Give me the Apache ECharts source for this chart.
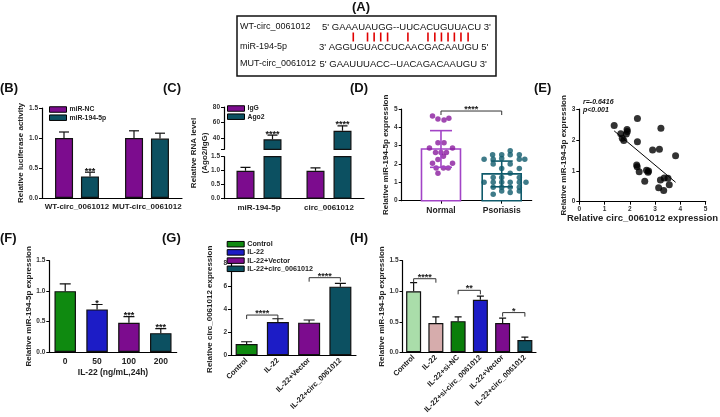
<!DOCTYPE html>
<html><head><meta charset="utf-8">
<script src="https://cdn.jsdelivr.net/npm/echarts@6/dist/echarts.min.js"></script>
<style>html,body{margin:0;padding:0;background:#fff}#c{width:720px;height:417px}</style>
</head><body><div id="c"></div>
<script>
// ================= DATA =================
// Panel A
const seqLabels = ['WT-circ_0061012', 'miR-194-5p', 'MUT-circ_0061012'];
const seqStrings = ["5' GAAAUAUGG--UUCACUGUUACU 3'", "3' AGGUGUACCUCAACGACAAUGU 5'", "5' GAAUUUACC--UACAGACAAUGU 3'"];
const pairedBases = [4, 6, 7, 8, 9, 12, 15, 16, 17, 18, 19, 20, 21]; // 1-based positions in miR sequence

// Panel B
const bCategories = ['WT-circ_0061012', 'MUT-circ_0061012'];
const bNames = ['miR-NC', 'miR-194-5p'];
const bNC = [1.00, 1.00];
const bNCErr = [0.10, 0.12];
const bMiR = [0.36, 0.99];
const bMiRErr = [0.07, 0.09];
const bMiRStars = ['***', ''];

// Panel C
const cCategories = ['miR-194-5p', 'circ_0061012'];
const cNames = ['IgG', 'Ago2'];
const cIgG = [1.00, 1.00];
const cIgGErr = [0.12, 0.10];
const cAgo2 = [38, 49];
const cAgo2Err = [5.5, 6.5];
const cAgo2Stars = ['****', '****'];
const cHighTicks = [40, 60, 80];

// Panel D
const dCategories = ['Normal', 'Psoriasis'];
const dMean = [2.82, 1.46];
const dSD = [1.00, 0.70];
const dNormal = [4.62, 4.46, 4.40, 4.49, 3.16, 3.16, 2.88, 2.88, 2.63, 2.63, 2.63, 2.43, 2.25, 2.04, 2.04, 1.78, 1.78, 1.78, 1.49];
const dNormalJitter = [-0.14, -0.05, 0.05, 0.13, -0.05, 0.05, -0.19, 0.19, -0.09, 0, 0.09, 0.04, -0.05, -0.14, 0.19, -0.08, 0.04, 0.12, -0.05];
const dPsoriasis = [2.73, 2.51, 2.51, 2.51, 2.51, 2.26, 2.26, 2.30, 2.26, 2.26, 2.00, 2.00, 1.75, 1.75, 1.49, 1.27, 1.27, 1.27, 1.00, 1.00, 1.00, 1.00, 1.00, 1.00, 0.73, 0.73, 0.73, 0.73, 0.53, 0.53, 0.35, 0.45];
const dPsoriasisJitter = [0.14, -0.15, 0, 0.14, 0.29, -0.29, -0.14, 0, 0.29, 0.38, -0.14, 0.14, 0, 0.29, 0.14, -0.14, 0, 0.29, -0.29, -0.14, 0, 0.14, 0.29, 0.40, -0.14, 0, 0.14, 0.29, 0, 0.29, -0.14, 0.14];
const dBrackets = [[1, 2, 4.89]];
const dBracketLabels = ['****'];

// Panel E
const eX = [1.38, 2.30, 1.64, 1.89, 1.90, 1.86, 1.70, 1.76, 2.30, 3.23, 2.90, 3.17, 3.81, 2.27, 2.29, 2.37, 2.66, 2.72, 2.74, 2.59, 3.21, 3.36, 3.51, 3.14, 3.34, 3.56];
const eY = [2.47, 2.69, 2.20, 2.34, 2.27, 2.19, 2.05, 1.98, 1.94, 2.38, 1.67, 1.70, 1.49, 1.19, 1.13, 0.97, 1.02, 0.95, 0.99, 0.66, 0.70, 0.77, 0.76, 0.45, 0.36, 0.55];
const eStats = ['r=-0.6416', 'p<0.001'];

// Panel F
const fCategories = ['0', '50', '100', '200'];
const fVals = [1.00, 0.70, 0.48, 0.31];
const fErr = [0.12, 0.08, 0.10, 0.075];
const fStars = ['', '*', '***', '***'];

// Panel G
const gCategories = ['Control', 'IL-22', 'IL-22+Vector', 'IL-22+circ_0061012'];
const gVals = [0.98, 2.90, 2.84, 5.97];
const gErr = [0.20, 0.28, 0.23, 0.29];
const gBrackets = [[0, 1, 3.5], [2, 3, 6.75]];
const gBracketLabels = ['****', '****'];

// Panel H
const hCategories = ['Control', 'IL-22', 'IL-22+si-NC', 'IL-22+si-circ_0061012', 'IL-22+Vector', 'IL-22+circ_0061012'];
const hVals = [1.00, 0.48, 0.51, 0.86, 0.48, 0.20];
const hErr = [0.14, 0.10, 0.07, 0.06, 0.08, 0.05];
const hBrackets = [[0, 1, 1.205], [2, 3, 1.015], [4, 5, 0.65]];
const hBracketLabels = ['****', '**', '*'];

// ================= STYLE =================
const FONT = '"Liberation Sans", Arial, sans-serif';
const PURPLE = '#7C0C8E', TEAL = '#0C5061', GREEN = '#0F8A10', BLUE = '#1C1CC6';
const LGREEN = '#AADDAA', PINK = '#D6ACAC', DGREEN = '#0A7E0A';
const fColors = [GREEN, BLUE, PURPLE, TEAL];
const gColors = [GREEN, BLUE, PURPLE, TEAL];
const hColors = [LGREEN, PINK, DGREEN, BLUE, PURPLE, TEAL];
const dBarColors = ['#A244C6', '#0F5A6B'];
const dDotColors = ['#8A1C9E', '#0F5A6B'];

function merge(a, b) {
  for (const k in b) {
    if (b[k] && typeof b[k] === 'object' && !Array.isArray(b[k]) && a[k] && typeof a[k] === 'object') merge(a[k], b[k]);
    else a[k] = b[k];
  }
  return a;
}
const AXL = { color: '#000', width: 1.2 };
function catX(grid, data, extra) {
  return merge({
    type: 'category', gridIndex: grid, data: data,
    axisLine: { onZero: false, lineStyle: AXL },
    axisTick: { alignWithLabel: true, length: 3, lineStyle: { color: '#000', width: 1 } },
    axisLabel: { fontSize: 8, fontWeight: 'bold', color: '#222', fontFamily: FONT, margin: 5, interval: 0 },
    splitLine: { show: false }
  }, extra || {});
}
function valY(grid, min, max, interval, fmt, extra) {
  return merge({
    type: 'value', gridIndex: grid, min: min, max: max, interval: interval,
    axisLine: { show: true, onZero: false, lineStyle: AXL },
    axisTick: { show: true, length: 3, lineStyle: { color: '#000', width: 1 } },
    axisLabel: { fontSize: 6.5, fontWeight: 'bold', color: '#333', fontFamily: FONT, margin: 4, formatter: fmt },
    splitLine: { show: false },
    nameLocation: 'middle', nameRotate: 90,
    nameTextStyle: { fontSize: 8, fontWeight: 'bold', color: '#222', fontFamily: FONT }
  }, extra || {});
}
const f1 = v => v.toFixed(1);
const f0 = v => String(Math.round(v));

function barSeries(name, xi, yi, data, color, extra) {
  return merge({
    type: 'bar', name: name, xAxisIndex: xi, yAxisIndex: yi, data: data, clip: true,
    itemStyle: { color: color, borderColor: '#111', borderWidth: 1.2 }, z: 2
  }, extra || {});
}
function errSeries(xi, yi, vals, errs, opts) {
  const o = Object.assign({ offset: 0, cap: 5, color: '#111', stars: null, lw: 1.2, starSize: 9 }, opts);
  return {
    type: 'custom', xAxisIndex: xi, yAxisIndex: yi, clip: true, z: 6, silent: true,
    data: vals.map((v, i) => [i, v, errs[i]]),
    encode: { x: 0, y: 1 },
    renderItem: function (params, api) {
      const x0 = api.value(0), v = api.value(1), e = api.value(2);
      const pv = api.coord([x0, v]);
      const pt = api.coord([x0, v + e]);
      const x = pv[0] + o.offset;
      const st = { stroke: o.color, lineWidth: o.lw };
      const ch = [
        { type: 'line', shape: { x1: x, y1: pv[1], x2: x, y2: pt[1] }, style: st },
        { type: 'line', shape: { x1: x - o.cap, y1: pt[1], x2: x + o.cap, y2: pt[1] }, style: st }
      ];
      const s = o.stars && o.stars[params.dataIndex];
      if (s) ch.push({ type: 'text', style: { text: s, x: x, y: pt[1] + 3.5, align: 'center', verticalAlign: 'bottom', fontSize: o.starSize, fontWeight: 'bold', fontFamily: FONT, fill: '#111' } });
      return { type: 'group', children: ch };
    }
  };
}
function bracketSeries(xi, yi, brackets, labels) {
  return {
    type: 'custom', xAxisIndex: xi, yAxisIndex: yi, z: 6, silent: true,
    data: brackets, dimensions: ['a', 'b', 'y'], encode: { x: [0, 1], y: 2 },
    renderItem: function (params, api) {
      const a = api.coord([api.value(0), api.value(2)]);
      const b = api.coord([api.value(1), api.value(2)]);
      return {
        type: 'group', children: [
          { type: 'polyline', shape: { points: [[a[0], a[1] + 4], [a[0], a[1]], [b[0], b[1]], [b[0], b[1] + 4]] }, style: { stroke: '#333', lineWidth: 1, fill: 'none' } },
          { type: 'text', style: { text: labels[params.dataIndex], x: (a[0] + b[0]) / 2, y: a[1] + 3, align: 'center', verticalAlign: 'bottom', fontSize: 9, fontWeight: 'bold', fontFamily: FONT, fill: '#222' } }
        ]
      };
    }
  };
}

// ================= LAYOUT =================
const grids = [
  { left: 42, top: 108, width: 140, height: 90 },        // 0 B
  { left: 224, top: 156.7, width: 140, height: 42 },     // 1 C low
  { left: 224, top: 107, width: 140, height: 42.3 },     // 2 C high
  { left: 401.7, top: 109, width: 130, height: 91.7 },   // 3 D
  { left: 579.3, top: 109, width: 140.7, height: 92.7 }, // 4 E
  { left: 49.3, top: 260.7, width: 127.4, height: 91.3 },// 5 F
  { left: 231, top: 263.3, width: 125, height: 92 },     // 6 G
  { left: 402.5, top: 260.7, width: 133.5, height: 91.6 } // 7 H
];

const xAxes = [
  catX(0, bCategories),
  catX(1, cCategories),
  catX(2, cCategories, { show: false }),
  {
    type: 'value', gridIndex: 3, min: 0.353, max: 2.494,
    axisLine: { onZero: false, lineStyle: AXL },
    axisTick: { show: true, length: 3, customValues: [1, 2], lineStyle: { color: '#000', width: 1 } },
    axisLabel: { customValues: [1, 2], formatter: v => dCategories[Math.round(v) - 1], fontSize: 8.5, fontWeight: 'bold', color: '#222', fontFamily: FONT, margin: 5 },
    splitLine: { show: false }
  },
  {
    type: 'value', gridIndex: 4, min: 0, max: 5, interval: 1,
    axisLine: { onZero: false, lineStyle: AXL },
    axisTick: { length: 3, lineStyle: { color: '#000', width: 1 } },
    axisLabel: { fontSize: 6.5, fontWeight: 'bold', color: '#333', fontFamily: FONT, margin: 4 },
    splitLine: { show: false },
    name: 'Relative circ_0061012 expression', nameLocation: 'middle', nameGap: 12,
    nameTextStyle: { fontSize: 9.5, fontWeight: 'bold', color: '#222', fontFamily: FONT }
  },
  catX(5, fCategories, {
    axisLabel: { fontSize: 8.5, margin: 5 },
    name: 'IL-22 (ng/mL,24h)', nameLocation: 'middle', nameGap: 16,
    nameTextStyle: { fontSize: 8.5, fontWeight: 'bold', color: '#222', fontFamily: FONT }
  }),
  catX(6, gCategories, { axisLabel: { rotate: 45, fontSize: 7.5, margin: 4 } }),
  catX(7, hCategories, { axisLabel: { rotate: 45, fontSize: 7.5, margin: 4 } })
];

const yAxes = [
  valY(0, 0, 1.5, 0.5, f1, { name: 'Relative luciferase activity', nameGap: 13 }),
  valY(1, 0, 1.5, 0.5, f1),
  valY(2, 25, 80, null, f0, { axisLabel: { customValues: cHighTicks }, axisTick: { customValues: [25].concat(cHighTicks) } }),
  valY(3, 0, 5, 1, f0, { name: 'Relative miR-194-5p expression', nameGap: 8.5 }),
  valY(4, 0, 3, 1, f0, { name: 'Relative miR-194-5p expression', nameGap: 10 }),
  valY(5, 0, 1.5, 0.5, f1, { name: 'Relative miR-194-5p expression', nameGap: 12 }),
  valY(6, 0, 8, 2, f0, { name: 'Relative circ_0061012 expression', nameGap: 17 }),
  valY(7, 0, 1.5, 0.5, f1, { name: 'Relative miR-194-5p expression', nameGap: 15 })
];
delete yAxes[2].interval;

// ================= SERIES =================
const series = [];
// B
series.push(barSeries(bNames[0], 0, 0, bNC, PURPLE, { barWidth: 18, barGap: '44%' }));
series.push(barSeries(bNames[1], 0, 0, bMiR, TEAL, { barWidth: 18, barGap: '44%' }));
series.push(errSeries(0, 0, bNC, bNCErr, { offset: -13 }));
series.push(errSeries(0, 0, bMiR, bMiRErr, { offset: 13, stars: bMiRStars }));
// C (broken axis: low & high grids)
[[1, 1], [2, 2]].forEach(([xi, yi]) => {
  series.push(barSeries(cNames[0], xi, yi, cIgG, PURPLE, { barWidth: 18, barGap: '50%' }));
  series.push(barSeries(cNames[1], xi, yi, cAgo2, TEAL, { barWidth: 18, barGap: '50%' }));
});
series.push(errSeries(1, 1, cIgG, cIgGErr, { offset: -13.5 }));
series.push(errSeries(2, 2, cAgo2, cAgo2Err, { offset: 13.5, stars: cAgo2Stars }));
// D
series.push({
  type: 'custom', xAxisIndex: 3, yAxisIndex: 3, z: 2, silent: true,
  data: dMean.map((v, i) => [i + 1, v]),
  renderItem: function (params, api) {
    const p = api.coord([api.value(0), api.value(1)]);
    const p0 = api.coord([api.value(0), 0]);
    const w = 39;
    return { type: 'rect', shape: { x: p[0] - w / 2, y: p[1], width: w, height: p0[1] - p[1] }, style: { fill: '#fff', stroke: dBarColors[params.dataIndex], lineWidth: 1.6 } };
  }
});
series.push({ type: 'scatter', xAxisIndex: 3, yAxisIndex: 3, z: 4, symbolSize: 5.5, itemStyle: { color: dDotColors[0] }, data: dNormal.map((v, i) => [1 + dNormalJitter[i], v]) });
series.push({ type: 'scatter', xAxisIndex: 3, yAxisIndex: 3, z: 4, symbolSize: 5.5, itemStyle: { color: dDotColors[1] }, data: dPsoriasis.map((v, i) => [2 + dPsoriasisJitter[i], v]) });
series.push({
  type: 'custom', xAxisIndex: 3, yAxisIndex: 3, z: 6, silent: true,
  data: dMean.map((v, i) => [i + 1, v, dSD[i]]),
  renderItem: function (params, api) {
    const x0 = api.value(0), v = api.value(1), e = api.value(2);
    const pt = api.coord([x0, v + e]), pb = api.coord([x0, v - e]);
    const x = pt[0], cap = 11;
    const st = { stroke: dBarColors[params.dataIndex], lineWidth: 1.6 };
    return { type: 'group', children: [
      { type: 'line', shape: { x1: x, y1: pt[1], x2: x, y2: pb[1] }, style: st },
      { type: 'line', shape: { x1: x - cap, y1: pt[1], x2: x + cap, y2: pt[1] }, style: st },
      { type: 'line', shape: { x1: x - cap, y1: pb[1], x2: x + cap, y2: pb[1] }, style: st }
    ] };
  }
});
series.push(bracketSeries(3, 3, dBrackets, dBracketLabels));
// E
series.push({ type: 'scatter', xAxisIndex: 4, yAxisIndex: 4, symbolSize: 7, itemStyle: { color: '#000' }, data: eX.map((x, i) => [x, eY[i]]), z: 4 });
(function () {
  const n = eX.length;
  const mx = eX.reduce((a, b) => a + b, 0) / n, my = eY.reduce((a, b) => a + b, 0) / n;
  let sxy = 0, sxx = 0;
  for (let i = 0; i < n; i++) { sxy += (eX[i] - mx) * (eY[i] - my); sxx += (eX[i] - mx) * (eX[i] - mx); }
  const slope = sxy / sxx, icpt = my - slope * mx;
  const x1 = Math.min.apply(null, eX), x2 = Math.max.apply(null, eX);
  series.push({ type: 'line', xAxisIndex: 4, yAxisIndex: 4, symbol: 'none', silent: true, lineStyle: { color: '#000', width: 1 }, data: [[x1, icpt + slope * x1], [x2, icpt + slope * x2]], z: 3 });
})();
// F
series.push(barSeries('F', 5, 5, fVals.map((v, i) => ({ value: v, itemStyle: { color: fColors[i] } })), GREEN, { barWidth: 21.5 }));
series.push(errSeries(5, 5, fVals, fErr, { cap: 5.5, stars: fStars }));
// G
gCategories.forEach((c, k) => {
  series.push(barSeries(c, 6, 6, gVals.map((v, i) => i === k ? v : '-'), gColors[k], { barWidth: 22, barGap: '-100%' }));
});
series.push(errSeries(6, 6, gVals, gErr, { cap: 5.5 }));
series.push(bracketSeries(6, 6, gBrackets, gBracketLabels));
// H
series.push(barSeries('H', 7, 7, hVals.map((v, i) => ({ value: v, itemStyle: { color: hColors[i] } })), LGREEN, { barWidth: 15 }));
series.push(errSeries(7, 7, hVals, hErr, { cap: 3.5 }));
series.push(bracketSeries(7, 7, hBrackets, hBracketLabels));

// ================= LEGENDS =================
function legend(left, top, names, fs) {
  return {
    left: left, top: top, orient: 'vertical', data: names, icon: 'rect', selectedMode: false,
    itemWidth: 17, itemHeight: 5.5, itemGap: 1.2,
    itemStyle: { borderColor: '#000', borderWidth: 1 },
    textStyle: { fontSize: fs || 6.8, fontWeight: 'bold', color: '#222', fontFamily: FONT, padding: [0, 0, 0, -2] },
    padding: 0
  };
}

// ================= GRAPHIC (panel A + panel letters + texts) =================
const graphic = [];
const panelLetters = [['(A)', 352, 1], ['(B)', 0, 82], ['(C)', 163, 82], ['(D)', 350, 82], ['(E)', 534, 82], ['(F)', 0, 232], ['(G)', 162, 232], ['(H)', 350, 232]];
panelLetters.forEach(p => graphic.push({ type: 'text', x: p[1], y: p[2], style: { text: p[0], fontSize: 13, fontWeight: 'bold', fontFamily: FONT, fill: '#111' } }));

const aLabelFont = 9, aSeqFont = 9.5;
const aRowsY = [27, 47, 64];
const aSeqX = [322, 319, 319.5];
graphic.push({ type: 'rect', shape: { x: 237, y: 16, width: 259, height: 60 }, style: { fill: 'none', stroke: '#111', lineWidth: 1.5 } });
seqLabels.forEach((t, i) => {
  graphic.push({ type: 'text', x: 240, y: aRowsY[i], style: { text: t, fontSize: aLabelFont, fontFamily: FONT, fill: '#111', verticalAlign: 'middle' } });
  graphic.push({ type: 'text', x: aSeqX[i], y: aRowsY[i], style: { text: seqStrings[i], fontSize: aSeqFont, fontFamily: FONT, fill: '#111', verticalAlign: 'middle' } });
});
(function () {
  const ctx = document.createElement('canvas').getContext('2d');
  ctx.font = aSeqFont + 'px "Liberation Sans"';
  const s = seqStrings[1];
  const prefixLen = 3; // "3' "
  pairedBases.forEach(k => {
    const idx = prefixLen + k - 1;
    const x = aSeqX[1] + ctx.measureText(s.slice(0, idx)).width + ctx.measureText(s[idx]).width / 2;
    graphic.push({ type: 'line', shape: { x1: x, y1: 32.5, x2: x, y2: 41.5 }, style: { stroke: '#E00000', lineWidth: 1.6 } });
  });
})();
// Panel C y title (spans both grids)
graphic.push({ type: 'text', x: 199, y: 153, rotation: Math.PI / 2, style: { text: 'Relative RNA level\n(Ago2/IgG)', fontSize: 8, fontWeight: 'bold', fontFamily: FONT, fill: '#222', align: 'center', verticalAlign: 'middle', lineHeight: 11 } });
// Panel E stats
graphic.push({ type: 'text', x: 583, y: 99, style: { text: eStats[0], fontSize: 7, fontWeight: 'bold', fontStyle: 'italic', fontFamily: FONT, fill: '#111' } });
graphic.push({ type: 'text', x: 583, y: 106.5, style: { text: eStats[1], fontSize: 7, fontWeight: 'bold', fontStyle: 'italic', fontFamily: FONT, fill: '#111' } });

const option = {
  animation: false,
  backgroundColor: '#fff',
  textStyle: { fontFamily: FONT },
  grid: grids,
  xAxis: xAxes,
  yAxis: yAxes,
  legend: [legend(49, 106, bNames), legend(227, 105, cNames), legend(226.7, 240.7, gCategories, 7.2)],
  series: series,
  graphic: graphic
};
const chart = echarts.init(document.getElementById('c'));
chart.setOption(option);
</script>
</body></html>
